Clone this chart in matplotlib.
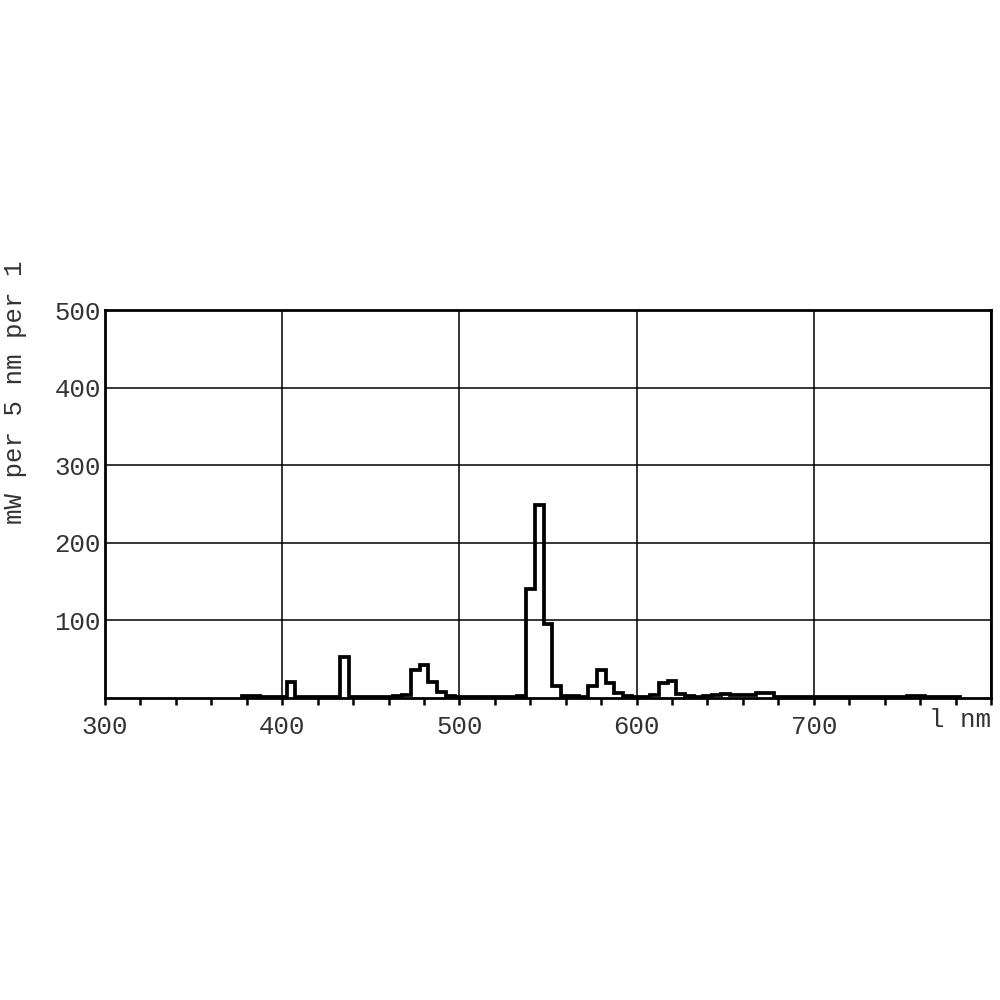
import numpy as np
import matplotlib.pyplot as plt

# 5 nm bins centred on multiples of 5 nm
centers = list(range(380, 785, 5))
power = [3, 2, 1, 1, 1, 20, 1, 1, 1, 1,
         1, 53, 1, 1, 1, 1, 1, 2, 4, 36,
         42, 20, 8, 2, 1, 1, 1, 1, 1, 1,
         1, 3, 140, 249, 95, 15, 3, 2, 1, 15,
         36, 19, 7, 3, 1, 1, 4, 19, 22, 5,
         2, 1, 2, 4, 5, 4, 4, 4, 6, 6,
         1, 1, 1, 1, 1, 1, 1, 1, 1, 1,
         1, 1, 1, 1, 1, 3, 2, 1, 1, 1, 1]
x_ticks = [300, 400, 500, 600, 700, 800]
x_labels = ['300', '400', '500', '600', '700', '']
y_ticks = [100, 200, 300, 400, 500]

plt.rcParams['font.family'] = ['Liberation Mono', 'DejaVu Sans Mono']
txt_col = '#333333'

fig = plt.figure(figsize=(10, 10), dpi=100)
ax = fig.add_axes([0.105, 0.302, 0.886, 0.388])

edges = np.array(centers + [centers[-1] + 5]) - 2.5
ax.stairs(power, edges, baseline=0, color='black', linewidth=2.7)

ax.set_xlim(300, 800)
ax.set_ylim(0, 500)
ax.set_xticks(x_ticks)
ax.set_xticklabels(x_labels, fontsize=18.5, color=txt_col)
ax.set_xticks(np.arange(300, 801, 20), minor=True)
ax.set_yticks(y_ticks)
ax.set_yticklabels([str(v) for v in y_ticks], fontsize=18.5, color=txt_col)
ax.tick_params(axis='x', which='both', direction='out', length=5, width=1.8, pad=7)
ax.tick_params(axis='y', length=0, pad=3)
ax.grid(True, which='major', color='black', linewidth=1.1)
for s in ax.spines.values():
    s.set_linewidth(2)

ax.text(1.0, -0.026, 'l nm', transform=ax.transAxes, ha='right', va='top',
        fontsize=18.5, color=txt_col)
fig.text(0.015, 0.608, 'mW per 5 nm per 1', rotation=90, ha='center', va='center',
         fontsize=18.5, color=txt_col)

fig.savefig('out.png')
